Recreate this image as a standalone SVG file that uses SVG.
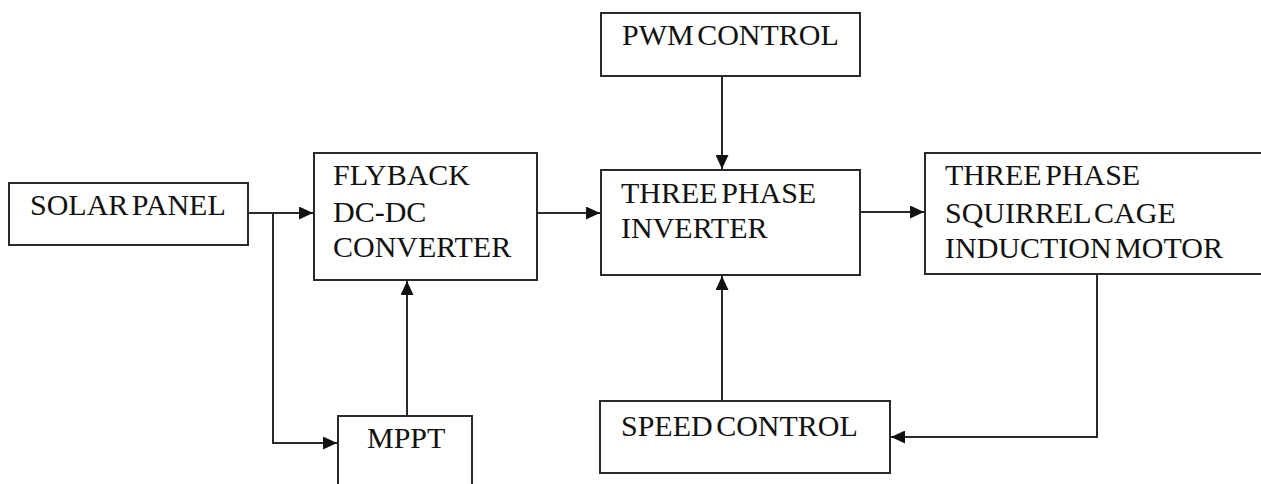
<svg xmlns="http://www.w3.org/2000/svg" width="1261" height="484" viewBox="0 0 1261 484">
  <defs>
    <marker id="arrow" viewBox="0 0 14 13" refX="14" refY="6.5" markerWidth="14" markerHeight="13" markerUnits="userSpaceOnUse" orient="auto">
      <path d="M0,0 L14,6.5 L0,13 Z" fill="#111111"/>
    </marker>
  </defs>
  <rect width="1261" height="484" fill="#ffffff"/>

  <!-- block outlines share these presentation attributes -->
  <g fill="#ffffff" stroke="#2a2a2a" stroke-width="2">
    <g id="solar-panel">
      <rect x="9" y="183" width="239" height="62"/>
    </g>
    <g id="flyback-converter">
      <rect x="314" y="153" width="223" height="127"/>
    </g>
    <g id="mppt">
      <rect x="338" y="416" width="134" height="80"/>
    </g>
    <g id="pwm-control">
      <rect x="601" y="13" width="259" height="63"/>
    </g>
    <g id="inverter">
      <rect x="601" y="170" width="259" height="105"/>
    </g>
    <g id="motor">
      <rect x="925" y="153" width="345" height="121"/>
    </g>
    <g id="speed-control">
      <rect x="600" y="401" width="290" height="72"/>
    </g>
  </g>

  <g id="labels" font-family="Liberation Serif, Times New Roman, serif" font-size="30" fill="#111111" word-spacing="-4">
    <text x="30" y="215">SOLAR PANEL</text>
    <text x="333" y="185">FLYBACK</text>
    <text x="333" y="222">DC-DC</text>
    <text x="333" y="257">CONVERTER</text>
    <text x="367" y="448">MPPT</text>
    <text x="622" y="45">PWM CONTROL</text>
    <text x="621" y="203">THREE PHASE</text>
    <text x="621" y="238">INVERTER</text>
    <text x="945" y="185">THREE PHASE</text>
    <text x="945" y="223">SQUIRREL CAGE</text>
    <text x="945" y="258">INDUCTION MOTOR</text>
    <text x="621" y="436">SPEED CONTROL</text>
  </g>

  <g id="connectors" fill="none" stroke="#2a2a2a" stroke-width="2">
    <path d="M248,213 H313" marker-end="url(#arrow)"/>
    <path d="M273,213 V443 H337" marker-end="url(#arrow)"/>
    <path d="M407,416 V281" marker-end="url(#arrow)"/>
    <path d="M537,213 H600" marker-end="url(#arrow)"/>
    <path d="M722,76 V169" marker-end="url(#arrow)"/>
    <path d="M722,401 V276" marker-end="url(#arrow)"/>
    <path d="M860,212 H924" marker-end="url(#arrow)"/>
    <path d="M1097,274 V437 H891" marker-end="url(#arrow)"/>
  </g>
</svg>
